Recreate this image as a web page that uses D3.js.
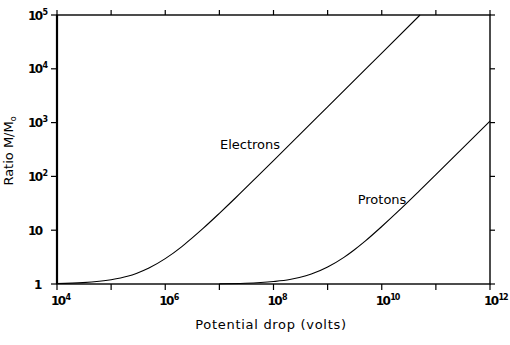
<!DOCTYPE html>
<html>
<head>
<meta charset="utf-8">
<script src="https://cdn.jsdelivr.net/npm/d3@7/dist/d3.min.js"></script>
<style>
  html, body { margin: 0; padding: 0; background: #fff; }
  svg { display: block; }
  text { font-family: "DejaVu Sans", "Liberation Sans", sans-serif; fill: #000; }
</style>
</head>
<body>
<svg id="chart" width="510" height="345"></svg>
<script>
// Potential drop (volts) vs. ratio of moving mass to rest mass
const electronVolts = [1e4, 3e4, 1e5, 2e5, 3e5, 5e5, 1e6, 2e6, 3e6, 5e6, 1e7, 2e7, 5e7, 1e8, 1e9, 1e10, 5.1e10];
const electronRatio = [1.02, 1.06, 1.2, 1.39, 1.59, 1.98, 2.96, 4.9, 6.9, 10.8, 20.6, 40.1, 99, 197, 1960, 19600, 1e5];

const protonVolts = [1e7, 3e7, 1e8, 2e8, 3e8, 5e8, 1e9, 2e9, 3e9, 5e9, 1e10, 2e10, 5e10, 1e11, 1e12];
const protonRatio = [1.01, 1.03, 1.11, 1.21, 1.32, 1.53, 2.07, 3.13, 4.2, 6.33, 11.7, 22.3, 54.3, 107.6, 1067];

const xTickValues = [1e4, 1e6, 1e8, 1e10, 1e12];
const xTickExp = ["4", "6", "8", "10", "12"];
const xMinorTicks = [1e5, 1e7, 1e9, 1e11];
const yTickValues = [1, 10, 1e2, 1e3, 1e4, 1e5];
const yTickBase = ["1", "10", "10", "10", "10", "10"];
const yTickExp = ["", "", "2", "3", "4", "5"];

const seriesLabels = ["Electrons", "Protons"];

const margin = { left: 57, top: 15, right: 20, bottom: 61 };
const W = 510, H = 345;
const svg = d3.select("#chart");

const x = d3.scaleLog().domain([1e4, 1e12]).range([margin.left, W - margin.right]);
const y = d3.scaleLog().domain([1, 1e5]).range([H - margin.bottom, margin.top]);

const g = svg.append("g");

// frame
g.append("rect")
  .attr("x", x(1e4)).attr("y", y(1e5))
  .attr("width", x(1e12) - x(1e4)).attr("height", y(1) - y(1e5))
  .attr("fill", "none").attr("stroke", "#000").attr("stroke-width", 1.4);
// heavier left spine
g.append("line")
  .attr("x1", x(1e4)).attr("x2", x(1e4))
  .attr("y1", y(1e5)).attr("y2", y(1))
  .attr("stroke", "#000").attr("stroke-width", 2.2);

// bottom axis ticks (outward)
const allX = xTickValues.concat(xMinorTicks);
g.selectAll(".xt").data(allX).enter().append("line")
  .attr("x1", d => x(d)).attr("x2", d => x(d))
  .attr("y1", y(1)).attr("y2", y(1) + 6)
  .attr("stroke", "#000").attr("stroke-width", 1.2);
// top axis ticks (outward)
g.selectAll(".xtt").data(allX).enter().append("line")
  .attr("x1", d => x(d)).attr("x2", d => x(d))
  .attr("y1", y(1e5)).attr("y2", y(1e5) - 5)
  .attr("stroke", "#000").attr("stroke-width", 1.2);
// left axis ticks
g.selectAll(".yt").data(yTickValues).enter().append("line")
  .attr("x1", x(1e4)).attr("x2", x(1e4) - 6)
  .attr("y1", d => y(d)).attr("y2", d => y(d))
  .attr("stroke", "#000").attr("stroke-width", 1.2);
// right axis ticks
g.selectAll(".ytr").data(yTickValues).enter().append("line")
  .attr("x1", x(1e12)).attr("x2", x(1e12) + 5)
  .attr("y1", d => y(d)).attr("y2", d => y(d))
  .attr("stroke", "#000").attr("stroke-width", 1.2);

// x tick labels: "10" centred on the tick, exponent to the right
const xl = g.selectAll(".xl").data(xTickValues).enter().append("text")
  .attr("x", d => x(d) - 6).attr("y", y(1) + 21)
  .attr("font-size", 12).attr("font-weight", "bold").attr("letter-spacing", -1.6);
xl.append("tspan").text("10");
xl.append("tspan").attr("dx", 1).attr("dy", -5).attr("font-size", 8).attr("letter-spacing", -1)
  .text((d, i) => xTickExp[i]);

// y tick labels
const yl = g.selectAll(".yl").data(yTickValues).enter().append("text")
  .attr("x", 28)
  .attr("y", d => y(d) + 4.5)
  .attr("font-size", 12).attr("font-weight", "bold").attr("letter-spacing", -1.6);
yl.append("tspan").text((d, i) => yTickBase[i]);
yl.append("tspan").attr("dx", 1).attr("dy", -5).attr("font-size", 8).text((d, i) => yTickExp[i]);
yl.filter((d, i) => yTickBase[i] === "1").attr("x", 34);

// curves
const line = d3.line()
  .x(d => x(d[0])).y(d => y(d[1]))
  .curve(d3.curveMonotoneX);

const electronPts = electronVolts.map((v, i) => [v, electronRatio[i]]);
const protonPts = protonVolts.map((v, i) => [v, protonRatio[i]]);

g.append("path").datum(electronPts).attr("d", line)
  .attr("fill", "none").attr("stroke", "#000").attr("stroke-width", 1.1);
g.append("path").datum(protonPts).attr("d", line)
  .attr("fill", "none").attr("stroke", "#000").attr("stroke-width", 1.1);

// series labels
g.append("text").attr("x", 250).attr("y", 149).attr("text-anchor", "middle")
  .attr("font-size", 13).text(seriesLabels[0]);
g.append("text").attr("x", 382).attr("y", 204).attr("text-anchor", "middle")
  .attr("font-size", 13).text(seriesLabels[1]);

// axis titles
g.append("text").attr("x", 271).attr("y", 329).attr("text-anchor", "middle")
  .attr("font-size", 13).attr("letter-spacing", 0.7).text("Potential drop (volts)");

const yt = g.append("text")
  .attr("transform", "translate(13,151) rotate(-90)")
  .attr("text-anchor", "middle").attr("font-size", 13);
yt.append("tspan").text("Ratio M/M");
yt.append("tspan").attr("dy", 3).attr("font-size", 8).text("o");
</script>
</body>
</html>
